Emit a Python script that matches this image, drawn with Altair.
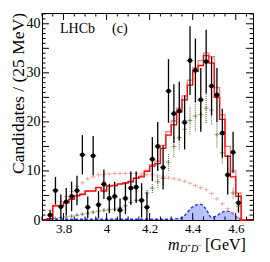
import altair as alt
import pandas as pd

# ---------------- data ----------------
bin_lo = 3.725          # lower edge of first bin (GeV)
bin_w = 0.025           # bin width (GeV)

data_y = [1.0, 6.0, 2.7, 3.7, 4.8, 6.0, 13.3, 2.6, 13.1, 3.1, 7.3, 4.4, 4.8, 2.0,
          4.4, 6.5, 6.7, 4.0, 2.6, 12.4, 15.0, 10.7, 26.3, 21.7, 22.2, 19.9, 32.5,
          30.5, 24.5, 32.3, 27.3, 25.5, 17.7, 9.2, 13.8, 3.5]
data_err = [1.0, 2.8, 2.5, 2.8, 3.0, 3.0, 4.0, 2.2, 4.0, 2.8, 3.0, 3.0, 3.0, 2.4,
            3.2, 3.4, 3.2, 3.5, 3.0, 4.5, 5.0, 4.5, 6.5, 6.0, 6.0, 5.5, 7.0,
            6.5, 6.5, 6.5, 6.0, 5.5, 5.0, 4.0, 4.2, 2.0]

fit_total = [0.3, 2.9, 2.9, 3.5, 4.2, 4.9, 5.2, 5.9, 5.9, 6.6, 5.9, 6.9, 7.0, 7.3,
             7.5, 7.8, 8.5, 8.8, 9.9, 11.0, 11.5, 14.6, 17.3, 19.4, 22.0, 24.5, 27.5,
             30.3, 31.5, 33.5, 32.0, 25.0, 20.5, 13.0, 8.8, 4.8, 0.0]
fit_alt = [0.3, 3.0, 3.0, 3.6, 4.3, 5.0, 5.3, 6.0, 6.0, 6.7, 6.1, 7.0, 7.1, 7.4,
           7.6, 7.9, 8.6, 9.0, 10.1, 11.3, 12.0, 15.2, 18.0, 20.2, 22.8, 25.3, 28.5,
           31.0, 32.5, 34.0, 33.3, 27.0, 21.5, 15.0, 10.0, 5.5, 0.0]

comp_pink = [2.0, 3.0, 3.7, 4.8, 5.8, 6.8, 7.6, 8.4, 8.8, 9.2, 9.3, 9.4, 9.5, 9.5,
             9.5, 9.5, 9.5, 9.4, 9.3, 9.2, 9.0, 8.8, 8.6, 8.4, 8.2, 7.9, 7.5,
             7.0, 6.6, 6.2, 5.4, 4.3, 3.3, 2.3, 1.3, 0.5]
comp_olive = [0.2, 0.3, 0.5, 0.6, 0.8, 1.0, 1.2, 1.4, 1.6, 1.8, 2.0, 2.1, 2.2, 2.5,
              2.9, 3.6, 4.0, 4.2, 5.5, 6.5, 7.8, 8.5, 11.8, 15.0, 16.8, 18.5, 20.3,
              21.2, 21.5, 22.8, 22.4, 17.4, 13.7, 9.0, 5.5, 2.8]
olive_err = [0.1, 0.1, 0.1, 0.1, 0.2, 0.2, 0.2, 0.2, 0.3, 0.3, 0.3, 0.3, 0.3, 0.4,
             0.4, 0.5, 0.5, 0.6, 0.8, 1.0, 1.2, 1.3, 1.8, 2.2, 2.4, 2.6, 2.8,
             3.0, 3.0, 3.0, 3.0, 2.6, 2.2, 1.6, 1.1, 0.6]
comp_blue = [0.15, 0.15, 0.15, 0.15, 0.15, 0.15, 0.15, 0.15, 0.15, 0.15, 0.15, 0.15,
             0.15, 0.15, 0.15, 0.15, 0.15, 0.15, 0.15, 0.15, 0.15, 0.15, 0.15, 0.2,
             0.3, 0.9, 2.2, 3.0, 3.2, 2.2, 0.5, 0.9, 1.6, 1.8, 1.3, 0.3, 0.1]

x_major = [3.8, 4.0, 4.2, 4.4, 4.6]
x_minor = [3.7, 3.75, 3.85, 3.9, 3.95, 4.05, 4.1, 4.15, 4.25, 4.3, 4.35, 4.45,
           4.5, 4.55, 4.65]
y_major = [0, 5, 10, 15, 20, 25, 30, 35, 40]
y_minor = [1, 2, 3, 4, 6, 7, 8, 9, 11, 12, 13, 14, 16, 17, 18, 19, 21, 22, 23, 24,
           26, 27, 28, 29, 31, 32, 33, 34, 36, 37, 38, 39, 41, 42]

# ---------------- tables ----------------
W, H = 211, 207
XDOM = [3.7, 4.68]
YDOM = [0, 42.2]
SERIF = "Liberation Serif"

centers = [bin_lo + bin_w * (i + 0.5) for i in range(len(data_y))]
df_data = pd.DataFrame({"x": centers, "y": data_y,
                        "lo": [max(0, v - e) for v, e in zip(data_y, data_err)],
                        "hi": [v + e for v, e in zip(data_y, data_err)]})

def step_table(vals):
    xs = [XDOM[0]] + [bin_lo + bin_w * i for i in range(len(vals))] + [XDOM[1]]
    ys = [0.0] + list(vals) + [0.0]
    return pd.DataFrame({"x": xs, "y": ys})

df_tot = step_table(fit_total)
df_alt = step_table(fit_alt)

cp = [bin_lo + bin_w * (i + 0.5) for i in range(len(comp_pink))]
df_pink = pd.DataFrame({"x": cp, "y": comp_pink})
co = [bin_lo + bin_w * (i + 0.5) for i in range(len(comp_olive))]
df_olive = pd.DataFrame({"x": co, "y": comp_olive,
                         "lo": [v - e for v, e in zip(comp_olive, olive_err)],
                         "hi": [v + e for v, e in zip(comp_olive, olive_err)]})
cb = [bin_lo + bin_w * (i + 0.5) for i in range(len(comp_blue))]
df_blue = pd.DataFrame({"x": cb, "y": comp_blue})

xs = alt.Scale(domain=XDOM, nice=False, zero=False)
ys = alt.Scale(domain=YDOM, nice=False)

X = alt.X("x:Q", scale=xs, axis=alt.Axis(values=x_major, format="~g", ticks=False,
          domain=False, grid=False, labelFont=SERIF, labelFontSize=13,
          labelColor="black", labelPadding=2, title=None))
Y = alt.Y("y:Q", scale=ys, axis=alt.Axis(values=y_major, ticks=False, domain=False,
          grid=False, labelFont=SERIF, labelFontSize=14, labelColor="black",
          labelPadding=2, title=None))
Xn = alt.X("x:Q", scale=xs)
Yn = alt.Y("y:Q", scale=ys)

base = alt.Chart(df_data).encode(x=X, y=Y)

# blue component (hatched area + dashed line)
blue_area = alt.Chart(df_blue).mark_area(interpolate="monotone", color="#3050ff",
                                         opacity=0.35).encode(x=Xn, y=Yn)
blue_line = alt.Chart(df_blue).mark_line(interpolate="monotone", color="#1a2cff",
                                         strokeDash=[3, 2], strokeWidth=1.3).encode(x=Xn, y=Yn)

# pink crosses
pink_h = alt.Chart(df_pink).mark_tick(orient="horizontal", size=5, thickness=1,
                                      color="#f08a8a").encode(x=Xn, y=Yn)
pink_v = alt.Chart(df_pink).mark_tick(orient="vertical", size=4, thickness=1,
                                      color="#f08a8a").encode(x=Xn, y=Yn)

# olive crosses with dotted bars
olive_err_r = alt.Chart(df_olive).mark_rule(color="#7a7a45", strokeDash=[1, 1],
                                            strokeWidth=1.2).encode(
    x=Xn, y=alt.Y("lo:Q", scale=ys), y2="hi:Q")
olive_h = alt.Chart(df_olive).mark_tick(orient="horizontal", size=5, thickness=1,
                                        color="#6b6b3a").encode(x=Xn, y=Yn)
olive_v = alt.Chart(df_olive).mark_tick(orient="vertical", size=4, thickness=1,
                                        color="#6b6b3a").encode(x=Xn, y=Yn)

# fit lines
alt_line = alt.Chart(df_alt).mark_line(interpolate="step-after", color="#ff7a7a",
                                       strokeWidth=1.3).encode(x=Xn, y=Yn)
tot_line = alt.Chart(df_tot).mark_line(interpolate="step-after", color="#ff0000",
                                       strokeWidth=1.3).encode(x=Xn, y=Yn)

# data points
d_err = alt.Chart(df_data).mark_rule(color="black", strokeWidth=1.3).encode(
    x=Xn, y=alt.Y("lo:Q", scale=ys), y2="hi:Q")
d_h = alt.Chart(df_data).mark_tick(orient="horizontal", size=6, thickness=1.3,
                                   color="black").encode(x=Xn, y=Yn)
d_pt = alt.Chart(df_data).mark_point(filled=True, color="black", size=22,
                                     opacity=1).encode(x=Xn, y=Yn)

# inward ticks (ROOT style)
tx_major = pd.DataFrame({"x": x_major})
tx_minor = pd.DataFrame({"x": x_minor})
ty_major = pd.DataFrame({"y": y_major})
ty_minor = pd.DataFrame({"y": y_minor})
tick_layers = []
for dfx, ln in ((tx_major, 7), (tx_minor, 3.5)):
    tick_layers.append(alt.Chart(dfx).mark_rule(color="black", strokeWidth=1).encode(
        x=Xn, y=alt.value(H), y2=alt.value(H - ln)))
    tick_layers.append(alt.Chart(dfx).mark_rule(color="black", strokeWidth=1).encode(
        x=Xn, y=alt.value(0), y2=alt.value(ln)))
for dfy, ln in ((ty_major, 7), (ty_minor, 3.5)):
    tick_layers.append(alt.Chart(dfy).mark_rule(color="black", strokeWidth=1).encode(
        y=Yn, x=alt.value(0), x2=alt.value(ln)))
    tick_layers.append(alt.Chart(dfy).mark_rule(color="black", strokeWidth=1).encode(
        y=Yn, x=alt.value(W), x2=alt.value(W - ln)))

# texts
def txt(s, x, y, size, **kw):
    return alt.Chart(pd.DataFrame({"t": [s]})).mark_text(
        font=SERIF, fontSize=size, color="black", align="left", baseline="alphabetic",
        **kw).encode(text="t:N", x=alt.value(x), y=alt.value(y))

t_lhcb = txt("LHCb", 18, 20, 14)
t_c = txt("(c)", 70, 20, 14)
t_m = txt("m", 126, 237, 16, fontStyle="italic")
t_d1 = txt("D", 138, 239, 10, fontStyle="italic")
t_p = txt("+", 145, 235, 7)
t_d2 = txt("D", 149, 239, 10, fontStyle="italic")
t_mi = txt("\u2212", 156, 235, 7)
t_gev = txt("[GeV]", 163, 237, 16)
t_ytitle = alt.Chart(pd.DataFrame({"t": ["Candidates / (25 MeV)"]})).mark_text(
    font=SERIF, fontSize=17.5, color="black", angle=270, align="right",
    baseline="alphabetic").encode(text="t:N", x=alt.value(-18), y=alt.value(0))

chart = alt.layer(
    base.mark_point(opacity=0),
    blue_area, blue_line, pink_h, pink_v, olive_err_r, olive_h, olive_v,
    alt_line, tot_line, d_err, d_h, d_pt,
    *tick_layers,
    t_lhcb, t_c, t_m, t_d1, t_p, t_d2, t_mi, t_gev, t_ytitle,
).properties(
    width=W, height=H,
    autosize=alt.AutoSizeParams(type="none"),
    padding={"left": 34, "top": 5, "right": 8, "bottom": 34},
    background="white",
).configure_view(stroke="black", strokeWidth=1)

chart.save("out.html", embed_options={"renderer": "svg", "actions": False})
